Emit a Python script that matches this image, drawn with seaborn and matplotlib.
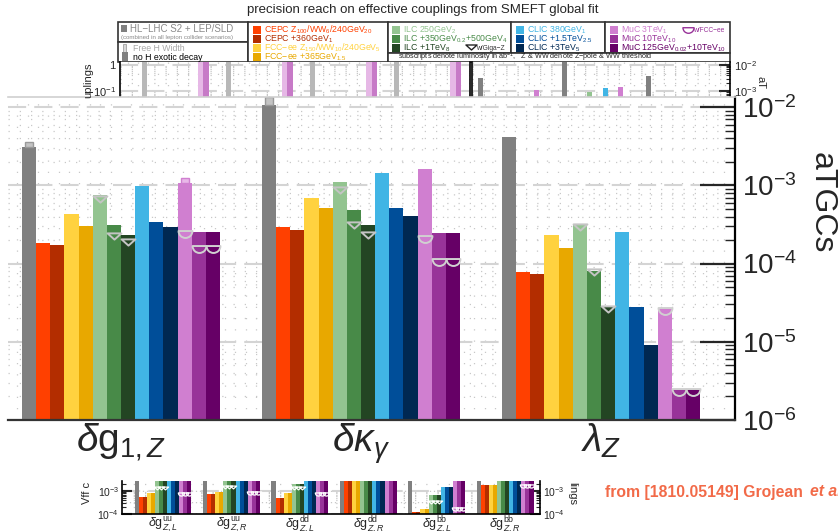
import numpy as np
import pandas as pd
import seaborn as sns
import matplotlib.pyplot as plt
from matplotlib.patches import Rectangle
from matplotlib.path import Path
from matplotlib.ticker import LogLocator, NullFormatter, MultipleLocator

# scenarios (hue levels) and their colours
scenarios = ['HL-LHC S2 + LEP/SLD', 'CEPC Z/WW/240GeV', 'CEPC +360GeV', 'FCC-ee Z/WW/240GeV',
             'FCC-ee +365GeV', 'ILC 250GeV', 'ILC +350GeV+500GeV', 'ILC +1TeV', 'CLIC 380GeV',
             'CLIC +1.5TeV', 'CLIC +3TeV', 'MuC 3TeV', 'MuC 10TeV', 'MuC 125GeV+10TeV']
colors = ['#808080', '#FF4000', '#B32D00', '#FFD23F', '#E8A800', '#93C490', '#488A48', '#234523',
          '#41B5E5', '#004E99', '#002852', '#D07FD0', '#983399', '#660066']

# main panel: aTGCs
couplings = [r'$\delta\mathrm{g}_{1,Z}$', r'$\delta\kappa_{\gamma}$', r'$\lambda_{Z}$']
dg1z = [3.1e-3, 1.84e-4, 1.74e-4, 4.3e-4, 3.0e-4, 7.6e-4, 3.16e-4, 2.35e-4, 9.8e-4, 3.4e-4, 2.9e-4, 1.07e-3, 2.5e-4, 2.5e-4]
dkg = [1.06e-2, 2.9e-4, 2.7e-4, 6.9e-4, 5.1e-4, 1.1e-3, 4.8e-4, 3.1e-4, 1.43e-3, 5.1e-4, 4.1e-4, 1.6e-3, 2.45e-4, 2.45e-4]
lz = [4.1e-3, 7.9e-5, 7.3e-5, 2.33e-4, 1.6e-4, 3.1e-4, 8.1e-5, 2.8e-5, 2.5e-4, 2.75e-5, 9.1e-6, 2.6e-5, 2.5e-6, 2.5e-6]
# free H width (gray / MuC 3TeV caps)
free_dg1z = [3.6e-3, 1.25e-3]
free_dkg = [1.36e-2, np.nan]
free_lz = [np.nan, np.nan]
# ILC w/ Giga-Z (3 ILC stages)
gigaz_dg1z = [6.7e-4, 2.23e-4, 1.9e-4]
gigaz_dkg = [8.8e-4, 3.1e-4, 2.34e-4]
gigaz_lz = [2.9e-4, 7.7e-5, 2.6e-5]
# MuC w/ FCC-ee (3 MuC stages)
fcc_dg1z = [2.4e-4, 1.55e-4, 1.55e-4]
fcc_dkg = [2.08e-4, 1.05e-4, 1.05e-4]
fcc_lz = [2.5e-5, 2.3e-6, 2.3e-6]

# strip of the chart above (only the tips are visible)
strip_left_groups = ['h1', 'h2', 'h3', 'h4']
strip_left_vals = [2.0, 0.01, 0.01, 0.01, 0.01, 0.01, 0.01, 0.01, 0.01, 0.01, 0.01, 2.0, 2.0, 0.01]
strip_right_groups = ['r1', 'r2', 'r3']
strip_right_g1 = [3.2e-3, 1e-4, 1e-4, 1e-4, 1e-4, 1e-4, 1e-4, 1e-4, 1e-4, 1e-4, 1e-4, 1.05e-3, 1e-4, 1e-4]
strip_right_g2 = [1.5e-2, 1e-4, 1e-4, 1e-4, 1e-4, 9e-4, 1e-4, 1e-4, 1.3e-3, 1e-4, 1e-4, 1.4e-3, 1e-4, 1e-4]
strip_right_g3 = [3.8e-3, 1e-4, 1e-4, 1e-4, 1e-4, 1e-4, 1e-4, 1e-4, 1e-4, 1e-4, 1e-4, 1e-4, 1e-4, 1e-4]
strip_colors = ['#B8B8B8'] + colors[1:11] + ['#E6B8E6', '#C77AC7', colors[13]]

# strip of the chart below (Vff couplings)
vff_labels = [r'$\delta\mathrm{g}^{\mathrm{uu}}_{Z,L}$', r'$\delta\mathrm{g}^{\mathrm{uu}}_{Z,R}$',
              r'$\delta\mathrm{g}^{\mathrm{dd}}_{Z,L}$', r'$\delta\mathrm{g}^{\mathrm{dd}}_{Z,R}$',
              r'$\delta\mathrm{g}^{\mathrm{bb}}_{Z,L}$', r'$\delta\mathrm{g}^{\mathrm{bb}}_{Z,R}$']
A = 5e-3
vff_uuL = [A, 5.5e-4, 5.5e-4, 7.9e-4, 7.9e-4, A, A, A, A, A, A, A, A, A]
vff_uuR = [A, 7.2e-4, 7.2e-4, 8.7e-4, 8.7e-4, A, A, A, A, A, A, A, A, A]
vff_ddL = [A, 5.0e-4, 5.0e-4, 7.9e-4, 7.9e-4, 2.1e-3, 2.1e-3, 2.1e-3, A, A, A, A, A, A]
vff_ddR = [A, A, A, A, A, A, A, A, A, A, A, A, A, A]
vff_bbL = [A, 1.18e-4, 1.18e-4, 1.7e-4, 1.7e-4, 6.7e-4, 6.7e-4, 6.7e-4, 1.45e-3, 1.45e-3, 1.45e-3, A, A, A]
vff_bbR = [A, 1.8e-3, 1.8e-3, 1.8e-3, 1.8e-3, A, A, A, A, A, A, A, A, A]
vff_gigaz = [1.35e-3, 1.5e-3, 1.3e-3, np.nan, 3.4e-4, np.nan]
vff_fcc = [7.5e-4, 8.5e-4, 7.4e-4, np.nan, 1.65e-4, 1.6e-3]

sns.set_style('white')
plt.rcParams['font.family'] = ['Liberation Sans', 'DejaVu Sans']
plt.rcParams['mathtext.fontset'] = 'custom'
plt.rcParams['mathtext.rm'] = 'Liberation Sans'
plt.rcParams['mathtext.it'] = 'Liberation Sans:italic'
plt.rcParams['mathtext.bf'] = 'Liberation Sans:bold'

W, H = 838, 531
fig = plt.figure(figsize=(W / 100, H / 100), dpi=100)


def box(x0, y0, x1, y1):
    return [x0 / W, 1 - y1 / H, (x1 - x0) / W, (y1 - y0) / H]


def ftext(x, y, s, **kw):
    kw.setdefault('va', 'center')
    return fig.text(x / W, 1 - y / H, s, **kw)


def frect(x0, y0, x1, y1, fc, ec='none', lw=1.0):
    fig.add_artist(Rectangle((x0 / W, 1 - y1 / H), (x1 - x0) / W, (y1 - y0) / H,
                             transform=fig.transFigure, fc=fc, ec=ec, lw=lw))


def grid_style(ax, xstep):
    ax.yaxis.grid(True, which='major', color='#d4d4d4', lw=1.5, ls=(0, (8.7, 3.9)))
    ax.yaxis.grid(True, which='minor', color='#c8c8c8', lw=0.9, ls=(0, (1, 8)))
    ax.xaxis.set_minor_locator(MultipleLocator(xstep))
    ax.xaxis.grid(True, which='minor', color='#c8c8c8', lw=0.9, ls=(0, (1, 8)))
    ax.tick_params(axis='x', which='minor', length=0)
    ax.set_axisbelow(True)


def log_bars(ax, data, x, y, order, palette, width, ylim):
    # bars drawn on a linear axis, then the axis is switched to log
    sns.barplot(data=data, x=x, y=y, hue='sc', order=order, hue_order=scenarios,
                palette=palette, width=width, saturation=1, legend=False, errorbar=None,
                linewidth=0, ax=ax)
    ax.set_yscale('log')
    ax.set_ylim(*ylim)
    ax.yaxis.set_major_locator(LogLocator(base=10, numticks=12))
    ax.yaxis.set_minor_locator(LogLocator(base=10, subs=np.arange(2, 10), numticks=12))
    ax.yaxis.set_minor_formatter(NullFormatter())
    ax.set_xlabel('')
    ax.set_ylabel('')
    return sorted(ax.patches, key=lambda p: p.get_x())


# half-circle marker (w/FCC-ee) and flat triangle marker (w/Giga-Z)
arc = Path.arc(180, 360)
cup = Path(np.vstack([arc.vertices + [0, 0.5], [[-1, 0.5]]]), np.append(arc.codes, Path.CLOSEPOLY))
tri = Path([(-1, 0.45), (1, 0.45), (0, -0.45), (-1, 0.45)],
           [Path.MOVETO, Path.LINETO, Path.LINETO, Path.CLOSEPOLY])

# ---------------- top strip (chart above) ----------------
axl = fig.add_axes(box(120, 62, 470, 97), zorder=1)
df_sl = pd.DataFrame({'g': np.repeat(strip_left_groups, 14), 'sc': scenarios * 4,
                      'v': strip_left_vals * 4})
log_bars(axl, df_sl, 'g', 'v', strip_left_groups, strip_colors, 0.85, (0.059, 1.3))
axl.set_xlim(-0.69, 3.476)
grid_style(axl, 0.12)
axl.set_xticks([])
axl.set_yticks([0.1, 1], labels=[r'$10^{-1}$', '1'])
axl.tick_params(axis='y', which='major', direction='in', length=8, width=1.5, labelsize=8, pad=3)
axl.tick_params(axis='y', which='minor', direction='in', length=3, width=0.8)
for s in ['top', 'bottom']:
    axl.spines[s].set_visible(False)
for s in ['left', 'right']:
    axl.spines[s].set_color('black')
    axl.spines[s].set_linewidth(1.2)

axr = fig.add_axes(box(472, 62, 730, 97), zorder=1)
df_sr = pd.DataFrame({'g': np.repeat(strip_right_groups, 14), 'sc': scenarios * 3,
                      'v': strip_right_g1 + strip_right_g2 + strip_right_g3})
log_bars(axr, df_sr, 'g', 'v', strip_right_groups, colors, 0.85, (5.9e-4, 1.3e-2))
axr.set_xlim(-0.494, 2.577)
grid_style(axr, 0.12)
axr.set_xticks([])
axr.yaxis.tick_right()
axr.tick_params(axis='y', which='major', direction='in', length=8, width=1.5, labelsize=8, pad=3)
axr.tick_params(axis='y', which='minor', direction='in', length=3, width=0.8)
for s in ['top', 'bottom']:
    axr.spines[s].set_visible(False)
for s in ['left', 'right']:
    axr.spines[s].set_color('black')
    axr.spines[s].set_linewidth(1.2)
ftext(88, 80, 'uplings', rotation=90, fontsize=8, ha='center')
ftext(760, 83, 'aT', rotation=-90, fontsize=8, ha='center')

# ---------------- main panel ----------------
ax = fig.add_axes(box(8, 97, 735, 420), zorder=3)
ax.set_facecolor('white')
df = pd.DataFrame({'coupling': np.repeat(couplings, 14), 'sc': scenarios * 3,
                   'value': dg1z + dkg + lz})
bars = log_bars(ax, df, 'coupling', 'value', couplings, colors, 0.825, (1e-6, 1.35e-2))
ax.set_xlim(-0.471, 2.558)
grid_style(ax, 0.0433)

free = [free_dg1z, free_dkg, free_lz]
gigaz = [gigaz_dg1z, gigaz_dkg, gigaz_lz]
fcc = [fcc_dg1z, fcc_dkg, fcc_lz]
vals = [dg1z, dkg, lz]
for g in range(3):
    for k, (h, fc, ec) in enumerate([(0, '#C4C4C4', '#9a9a9a'), (11, '#E8B8E8', '#D07FD0')]):
        top = free[g][k]
        if np.isnan(top):
            continue
        p = bars[g * 14 + h]
        xc = p.get_x() + p.get_width() / 2
        ax.bar(xc, top - vals[g][h], bottom=vals[g][h], width=p.get_width() * 0.55,
               color=fc, edgecolor=ec, lw=1, zorder=2)
    for k, h in enumerate([5, 6, 7]):
        p = bars[g * 14 + h]
        ax.plot(p.get_x() + p.get_width() / 2, gigaz[g][k], marker=tri, ms=10, mfc='none',
                mec='#c4c4c4', mew=1.4, ls='none', zorder=5)
    for k, h in enumerate([11, 12, 13]):
        p = bars[g * 14 + h]
        ax.plot(p.get_x() + p.get_width() / 2, fcc[g][k], marker=cup, ms=10, mfc='none',
                mec='#d0d0d0', mew=1.4, ls='none', zorder=5)

ax.yaxis.tick_right()
ax.tick_params(axis='y', which='major', direction='in', length=25, width=1.6, labelsize=20, pad=5)
ax.tick_params(axis='y', which='minor', direction='in', length=7, width=1.0)
ax.tick_params(axis='x', which='major', length=0, labelsize=28, pad=1)
ax.spines['left'].set_visible(False)
ax.spines['top'].set_color('#d0d0d0')
ax.spines['top'].set_linewidth(1.2)
ax.spines['right'].set_color('black')
ax.spines['right'].set_linewidth(1.6)
ax.spines['bottom'].set_color('#333333')
ax.spines['bottom'].set_linewidth(1.6)
ftext(822, 203, 'aTGCs', rotation=-90, fontsize=23, ha='center')

# ---------------- bottom strip (Vff chart) ----------------
axb = fig.add_axes(box(122, 481, 540, 514), zorder=1)
df_b = pd.DataFrame({'c': np.repeat(vff_labels, 14), 'sc': scenarios * 6,
                     'v': vff_uuL + vff_uuR + vff_ddL + vff_ddR + vff_bbL + vff_bbR})
bb = log_bars(axb, df_b, 'c', 'v', vff_labels, colors, 0.83, (1e-4, 2.7e-3))
axb.set_xlim(-0.6, 5.51)
grid_style(axb, 0.06)
for g in range(6):
    for hs, arr, mk in [([5, 6, 7], vff_gigaz, tri), ([11, 12, 13], vff_fcc, cup)]:
        if np.isnan(arr[g]):
            continue
        for h in hs:
            p = bb[g * 14 + h]
            axb.plot(p.get_x() + p.get_width() / 2, arr[g], marker=mk, ms=4.5, mfc='none',
                     mec='white', mew=0.9, ls='none', zorder=5)
axb.tick_params(axis='y', which='both', left=True, right=True, labelleft=True, labelright=True,
                direction='in')
axb.tick_params(axis='y', which='major', length=7, width=1.5, labelsize=7.5, pad=2)
axb.tick_params(axis='y', which='minor', length=3, width=0.8)
axb.tick_params(axis='x', which='major', length=0, labelsize=9, pad=1)
axb.spines['top'].set_visible(False)
for s in ['left', 'right', 'bottom']:
    axb.spines[s].set_color('black')
    axb.spines[s].set_linewidth(1.2)
ftext(87, 493, 'Vff c', rotation=90, fontsize=8, ha='center')
ftext(572, 493, 'lings', rotation=-90, fontsize=8, ha='center')

# credit
ftext(605, 492, 'from [1810.05149] Grojean', color='#F26A48', fontsize=11.3,
      fontweight='bold', ha='left')
ftext(810, 492, 'et al.', color='#F26A48', fontsize=11.3, fontweight='bold',
      style='italic', ha='left')

# ---------------- title and legend ----------------
ftext(423, 10, 'precision reach on effective couplings from SMEFT global fit', fontsize=9.5,
      ha='center')
lw_box = 1.2
frect(118, 22, 248, 42, 'white', '#333333', lw_box)
frect(118, 42, 248, 62, 'white', '#333333', lw_box)
frect(248, 22, 388, 62, 'white', '#333333', lw_box)
frect(388, 22, 511, 53, 'white', '#333333', lw_box)
frect(511, 22, 605, 53, 'white', '#333333', lw_box)
frect(605, 22, 730, 53, 'white', '#333333', lw_box)
frect(388, 53, 730, 62, 'white', '#333333', lw_box)

fs = 6.3
frect(121, 25, 127, 32, colors[0])
ftext(130, 28.5, 'HL−LHC S2 + LEP/SLD', fontsize=7, color='#8a8a8a', ha='left')
ftext(121, 37.5, '(combined in all lepton collider scenarios)', fontsize=4.4, color='#8a8a8a', ha='left')
frect(123, 44, 126, 52, '#d8d8d8', '#a0a0a0', 0.6)
ftext(133, 48, 'Free H Width', fontsize=fs, color='#a8a8a8', ha='left')
frect(122, 52, 128, 61, '#808080')
ftext(133, 57, 'no H exotic decay', fontsize=fs, color='black', ha='left')

leg_rows = [30, 39, 48, 57]
blocks = [
    (253, [(1, r'CEPC Z$_{100}$/WW$_{6}$/240GeV$_{20}$'), (2, r'CEPC +360GeV$_{1}$'),
           (3, r'FCC−ee Z$_{150}$/WW$_{10}$/240GeV$_{5}$'), (4, r'FCC−ee +365GeV$_{1.5}$')]),
    (392, [(5, r'ILC 250GeV$_{2}$'), (6, r'ILC +350GeV$_{0.2}$+500GeV$_{4}$'),
           (7, r'ILC +1TeV$_{8}$')]),
    (516, [(8, r'CLIC 380GeV$_{1}$'), (9, r'CLIC +1.5TeV$_{2.5}$'), (10, r'CLIC +3TeV$_{5}$')]),
    (610, [(11, r'MuC 3TeV$_{1}$'), (12, r'MuC 10TeV$_{10}$'),
           (13, r'MuC 125GeV$_{0.02}$+10TeV$_{10}$')]),
]
for x0, entries in blocks:
    for row, (ci, label) in enumerate(entries):
        y = leg_rows[row]
        frect(x0, y - 3.5, x0 + 7.5, y + 4, colors[ci])
        ftext(x0 + 10.5, y, label, fontsize=fs, color=colors[ci], ha='left')

fig.lines.append(plt.Line2D([471 / W], [1 - 47 / H], marker=tri, ms=8, mfc='none', mec='#222222',
                            mew=1.0, ls='none', transform=fig.transFigure))
ftext(476, 48, 'w/Giga−Z', fontsize=4.8, color='#333333', ha='left')
fig.lines.append(plt.Line2D([688 / W], [1 - 30 / H], marker=cup, ms=8, mfc='none', mec='#983399',
                            mew=1.0, ls='none', transform=fig.transFigure))
ftext(693, 31, 'w/FCC−ee', fontsize=4.8, color='#983399', ha='left')
ftext(398, 57.5, r'subscripts denote luminosity in ab$^{-1}$,   Z & WW denote Z−pole & WW threshold',
      fontsize=5.2, color='#222222', ha='left')

fig.savefig('out.png', dpi=100)
